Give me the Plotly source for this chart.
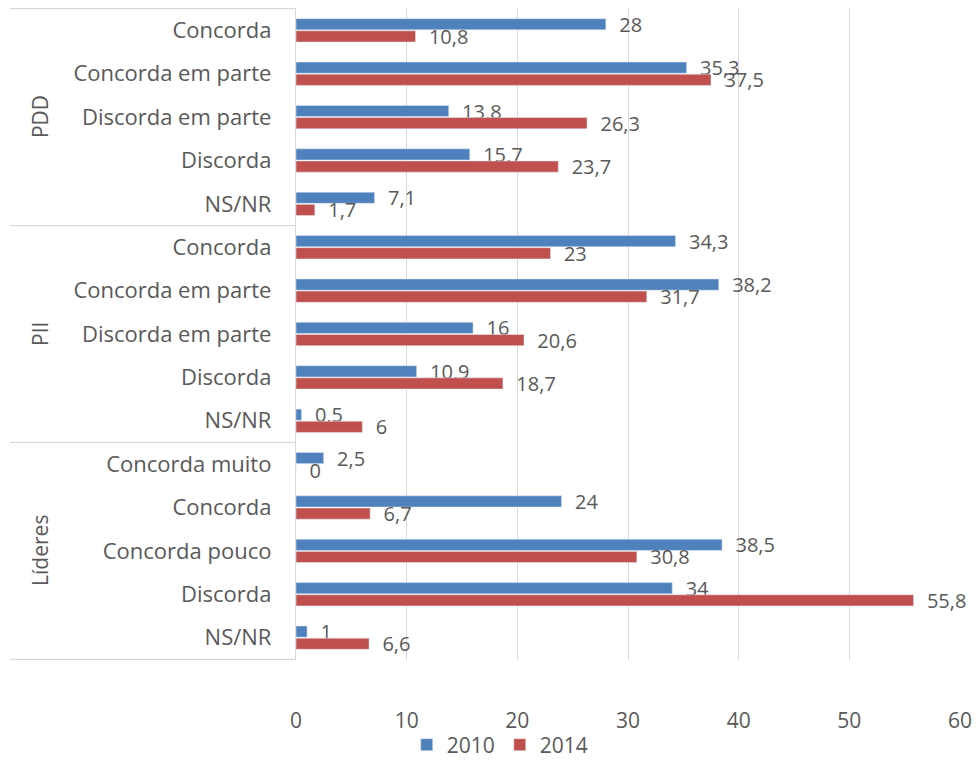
import plotly.graph_objects as go

groups = ["PDD"] * 5 + ["PII"] * 5 + ["Líderes"] * 5
labels = ["Concorda", "Concorda em parte", "Discorda em parte", "Discorda", "NS/NR",
          "Concorda", "Concorda em parte", "Discorda em parte", "Discorda", "NS/NR",
          "Concorda muito", "Concorda", "Concorda pouco", "Discorda", "NS/NR"]
v2010 = [28, 35.3, 13.8, 15.7, 7.1, 34.3, 38.2, 16, 10.9, 0.5, 2.5, 24, 38.5, 34, 1]
v2014 = [10.8, 37.5, 26.3, 23.7, 1.7, 23, 31.7, 20.6, 18.7, 6, 0, 6.7, 30.8, 55.8, 6.6]
x_ticks = [0, 10, 20, 30, 40, 50, 60]

keys = [f"{g}|{l}" for g, l in zip(groups, labels)]
FONT = "Open Sans"
GRAY = "#595959"

fig = go.Figure()
for name, vals, color in [("2010", v2010, "#4F81BD"), ("2014", v2014, "#C0504D")]:
    fig.add_trace(go.Bar(
        name=name, y=keys, x=vals, orientation="h",
        marker=dict(color=color),
        texttemplate="\u00a0\u00a0%{x}", textposition="outside",
        constraintext="none", cliponaxis=False,
        textfont=dict(family=FONT, size=20, color=GRAY),
    ))

shapes = []
for b in [-0.5, 4.5, 9.5, 14.5]:
    shapes.append(dict(type="line", xref="paper", yref="y", x0=(10 - 296) / 664, x1=0,
                       y0=b, y1=b, line=dict(color="#d9d9d9", width=1.3)))

annotations = []
for g in ["PDD", "PII", "Líderes"]:
    idx = [i for i, gg in enumerate(groups) if gg == g]
    annotations.append(dict(text=g, xref="paper", yref="y", x=(40 - 296) / 664,
                            y=(idx[0] + idx[-1]) / 2, showarrow=False, textangle=-90,
                            xanchor="center", yanchor="middle",
                            font=dict(family=FONT, size=21, color=GRAY)))

fig.update_layout(
    width=977, height=762,
    margin=dict(l=296, r=17, t=8, b=102, autoexpand=False),
    paper_bgcolor="white", plot_bgcolor="white",
    barmode="group", bargap=0.44, bargroupgap=0.08,
    separators=",.",
    shapes=shapes, annotations=annotations,
    font=dict(family=FONT, color=GRAY),
    legend=dict(orientation="h", xref="container", yref="container",
                x=0.512, y=0.0223, xanchor="center", yanchor="middle", itemwidth=30,
                bgcolor="rgba(0,0,0,0)",
                font=dict(family=FONT, size=21, color=GRAY), traceorder="normal"),
    xaxis=dict(range=[0, 60], tickvals=x_ticks, showgrid=True, gridcolor="#d9d9d9",
               gridwidth=1.3, zeroline=False, showline=False, automargin=False,
               ticklabelstandoff=46, tickfont=dict(family=FONT, size=21, color=GRAY)),
    yaxis=dict(type="category", categoryorder="array", categoryarray=keys,
               tickvals=keys, ticktext=labels, autorange="reversed", automargin=False,
               showline=True, linecolor="#d9d9d9", linewidth=1.3,
               ticklabelstandoff=19, tickfont=dict(family=FONT, size=22, color=GRAY)),
)

fig.write_html(
    "out.html",
    config={"displayModeBar": False},
    post_script="document.body.style.margin='0';document.body.style.overflow='hidden';",
)
